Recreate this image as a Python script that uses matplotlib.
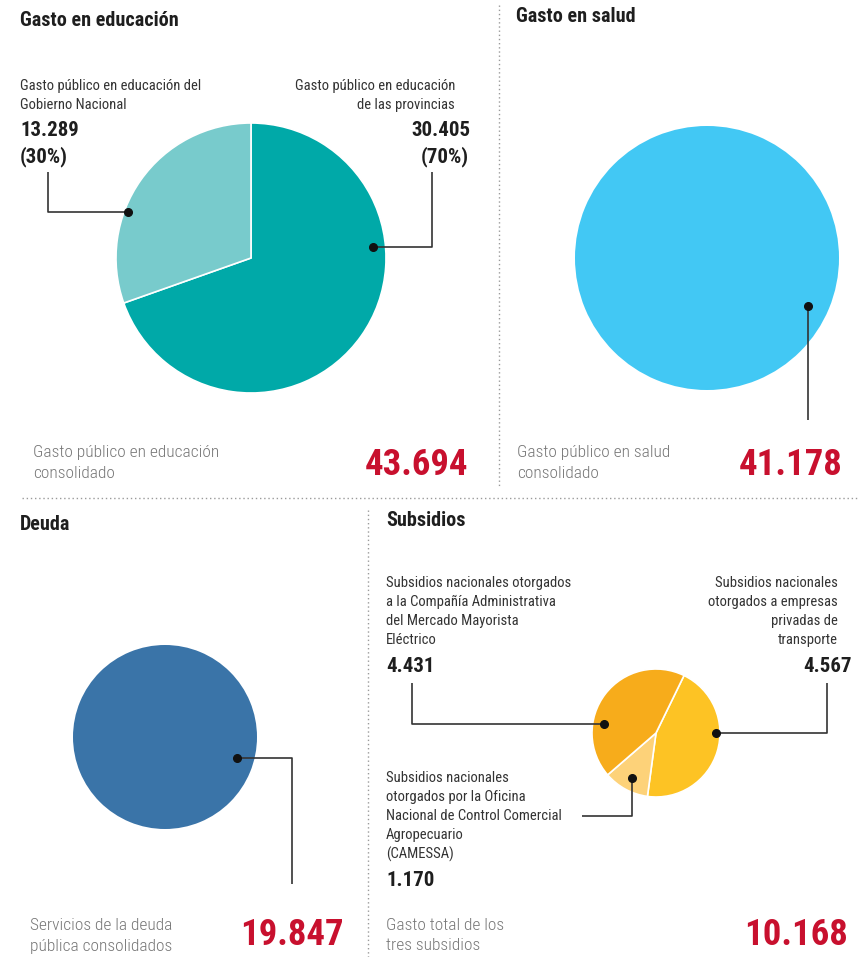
import matplotlib.pyplot as plt

plt.rcParams['font.family'] = ['Roboto Condensed', 'DejaVu Sans']

W, H = 864, 957

# data (millones)
edu_labels = ["provincias", "Gobierno Nacional"]
edu_values = [30.405, 13.289]
edu_colors = ["#00A9A8", "#78CBCC"]
edu_total = "43.694"

salud_values = [41.178]
salud_total = "41.178"

deuda_values = [19.847]
deuda_total = "19.847"

sub_labels = ["transporte", "CAMESSA", "Mercado Mayorista"]
sub_values = [4.567, 1.170, 4.431]
sub_colors = ["#FDC324", "#FDD279", "#F7AC1B"]
sub_total = "10.168"

RED = "#C8102E"
DARK = "#1e1e1e"
GRAY = "#777777"
LINE = "#333333"

fig = plt.figure(figsize=(W / 100, H / 100), dpi=100)
ax = fig.add_axes([0, 0, 1, 1])


def Y(y):
    return H - y


def txt(x, y, s, **kw):
    kw.setdefault("va", "center")
    ax.text(x, Y(y), s, **kw)


def lines(x, y0, rows, step, **kw):
    for i, r in enumerate(rows):
        txt(x, y0 + i * step, r, **kw)


def leader(pts):
    xs = [p[0] for p in pts]
    ys = [Y(p[1]) for p in pts]
    ax.plot(xs, ys, color=LINE, lw=1.2, solid_capstyle="butt")
    ax.plot(xs[-1], ys[-1], "o", color="#111111", ms=5.5)


wp = dict(edgecolor="white", linewidth=1.2)

# pies (visual clockwise from top)
ax.pie(edu_values, colors=edu_colors, center=(251, Y(258)), radius=135,
       startangle=90, counterclock=False, wedgeprops=wp, frame=True)
ax.pie(salud_values, colors=["#42C8F4"], center=(707, Y(258)), radius=132,
       startangle=90, counterclock=False, wedgeprops=dict(linewidth=0), frame=True)
ax.pie(deuda_values, colors=["#3A74A8"], center=(165, Y(737)), radius=92,
       startangle=90, counterclock=False, wedgeprops=dict(linewidth=0), frame=True)
ax.pie(sub_values, colors=sub_colors, center=(656, Y(733)), radius=64,
       startangle=64, counterclock=False, wedgeprops=wp, frame=True)

ax.set_xlim(0, W)
ax.set_ylim(0, H)
ax.set_aspect("auto")
ax.axis("off")

# separators
sep = dict(color="#9a9a9a", lw=1, ls=(0, (1, 2)))
ax.plot([499, 499], [Y(5), Y(487)], **sep)
ax.plot([22, 857], [Y(498), Y(498)], **sep)
ax.plot([368, 368], [Y(510), Y(957)], **sep)

title = dict(fontsize=14.5, fontweight=900, color=DARK)
lab = dict(fontsize=10.5, color="#333333")
num = dict(fontsize=15, fontweight="bold", color=DARK)
bot = dict(fontsize=12.5, fontweight="light", color=GRAY)
big = dict(fontsize=26.5, fontweight="bold", color=RED, ha="right")

# educacion
txt(20, 20, "Gasto en educación", **title)
lines(20, 86, ["Gasto público en educación del", "Gobierno Nacional"], 19, **lab)
txt(20, 131, "13.289", **num)
txt(20, 157, "(30%)", **num)
leader([(48, 172), (48, 212), (128, 212)])
lines(455, 86, ["Gasto público en educación", "de las provincias"], 19, ha="right", **lab)
txt(471, 131, "30.405", ha="right", **num)
txt(469, 157, "(70%)", ha="right", **num)
leader([(432, 172), (432, 247), (373, 247)])
lines(33, 453, ["Gasto público en educación", "consolidado"], 21, **bot)
txt(468, 465, edu_total, **big)

# salud
txt(516, 16, "Gasto en salud", **title)
leader([(808, 420), (808, 306)])
lines(517, 453, ["Gasto público en salud", "consolidado"], 21, **bot)
txt(843, 465, salud_total, **big)

# deuda
txt(20, 524, "Deuda", **title)
leader([(292, 884), (292, 758), (237, 758)])
lines(30, 925, ["Servicios de la deuda", "pública consolidados"], 21, **bot)
txt(344, 935, deuda_total, **big)

# subsidios
txt(386, 521, "Subsidios", **title)
lines(386, 583, ["Subsidios nacionales otorgados", "a la Compañía Administrativa",
                 "del Mercado Mayorista", "Eléctrico"], 19, **lab)
txt(386, 666, "4.431", **num)
leader([(412, 683), (412, 724), (604, 724)])
lines(838, 583, ["Subsidios nacionales", "otorgados a empresas",
                 "privadas de", "transporte"], 19, ha="right", **lab)
txt(852, 666, "4.567", ha="right", **num)
leader([(827, 683), (827, 733), (716, 733)])
lines(386, 778, ["Subsidios nacionales", "otorgados por la Oficina",
                 "Nacional de Control Comercial", "Agropecuario", "(CAMESSA)"], 19, **lab)
txt(386, 880, "1.170", **num)
leader([(582, 816), (632, 816), (632, 778)])
lines(386, 925, ["Gasto total de los", "tres subsidios"], 21, **bot)
txt(848, 935, sub_total, **big)

fig.savefig("out.png", dpi=100)
